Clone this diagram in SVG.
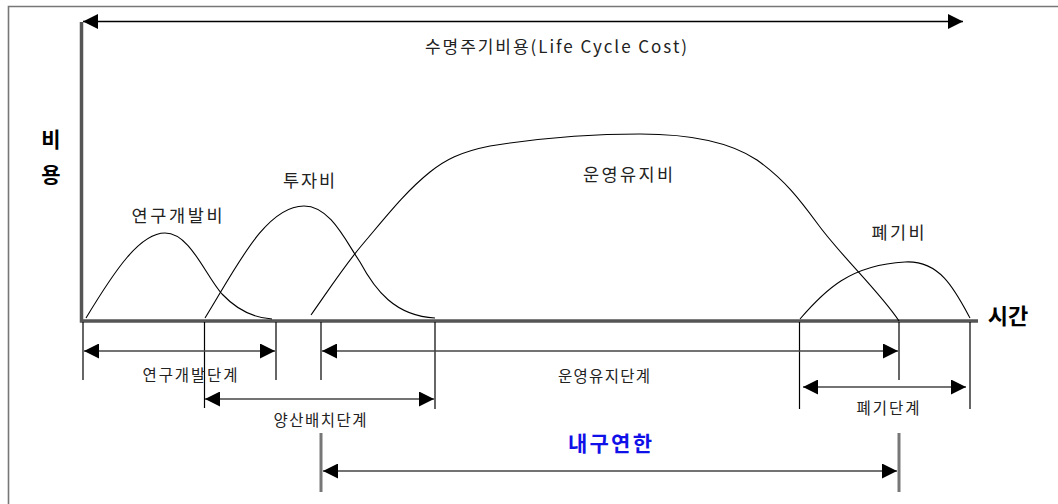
<svg xmlns="http://www.w3.org/2000/svg" width="1058" height="504" viewBox="0 0 1058 504">
<style>
.t{font-family:"Noto Sans CJK KR","Liberation Sans",sans-serif;fill:#222;text-anchor:middle}
.lbl{font-size:17.5px}
.ph{font-size:15.5px}
.b{font-weight:bold;fill:#000}
.curve{fill:none;stroke:#000;stroke-width:1.1}
.tick{stroke:#000;stroke-width:1.2}
.dim{stroke:#444;stroke-width:1.3;marker-start:url(#al);marker-end:url(#ar)}
.axis{stroke:#555;stroke-width:3.5;fill:none}
</style>
<defs>
<marker id="ar" markerUnits="userSpaceOnUse" markerWidth="16" markerHeight="16" refX="15" refY="7.5" orient="auto"><path d="M0,0 L15,7.5 L0,15 z" fill="#000"/></marker>
<marker id="al" markerUnits="userSpaceOnUse" markerWidth="16" markerHeight="16" refX="0" refY="7.5" orient="auto"><path d="M15,0 L0,7.5 L15,15 z" fill="#000"/></marker>
</defs>
<rect width="1058" height="504" fill="#fff"/>
<g id="frame"><path d="M8.5,504 V6.5 H1058" fill="none" stroke="#777" stroke-width="1.6"/></g>
<g id="axes">
<path class="axis" d="M81.5,22 V321 H978"/>
<text class="t b" x="51" y="147" font-size="21">비</text>
<text class="t b" x="51" y="182" font-size="21">용</text>
<text class="t b" x="1008" y="324" font-size="22">시간</text>
</g>
<g id="lcc">
<line x1="83" y1="21.5" x2="963" y2="21.5" stroke="#000" stroke-width="1.3" marker-start="url(#al)" marker-end="url(#ar)"/>
<text class="t" x="556" y="53" font-size="17" textLength="262">수명주기비용(Life Cycle Cost)</text>
</g>
<g id="rnd">
<path class="curve" d="M86,318 C115,270 140,233 165,233 C190,233 205,275 222,294 C238,311 255,318 272,319"/>
<text class="t lbl" x="177" y="222" textLength="91">연구개발비</text>
</g>
<g id="invest">
<path class="curve" d="M205,318 C235,270 265,206 304,206 C330,206 345,240 360,262 C375,290 395,316 435,318"/>
<text class="t lbl" x="309" y="187" textLength="52">투자비</text>
</g>
<g id="om">
<path class="curve" d="M311,315 C330,288 345,265 362,245 C385,218 405,192 430,172 C445,160 460,152 490,146 C540,138 590,134 640,134 C690,134 730,142 757,160 C785,180 800,200 817,223 C840,255 880,292 899,321"/>
<text class="t lbl" x="628" y="181" textLength="90">운영유지비</text>
</g>
<g id="disposal">
<path class="curve" d="M800,319 C825,290 850,265 905,262 C940,260 955,290 970,318"/>
<text class="t lbl" x="898" y="239" textLength="53">폐기비</text>
</g>
<g id="connectors">
<line class="tick" x1="83" y1="322" x2="83" y2="380"/>
<line class="tick" x1="204.5" y1="322" x2="204.5" y2="408"/>
<line class="tick" x1="276" y1="322" x2="276" y2="380"/>
<line class="tick" x1="321" y1="322" x2="321" y2="380"/>
<line class="tick" x1="435" y1="322" x2="435" y2="409"/>
<line class="tick" x1="799.5" y1="322" x2="799.5" y2="409"/>
<line class="tick" x1="899" y1="322" x2="899" y2="380"/>
<line class="tick" x1="970" y1="322" x2="970" y2="409"/>
<line class="dim" x1="84" y1="351" x2="275" y2="351"/>
<line class="dim" x1="322" y1="351" x2="898" y2="351"/>
<line class="dim" x1="205" y1="399" x2="434" y2="399"/>
<line class="dim" x1="803" y1="387" x2="966" y2="387"/>
<line x1="321" y1="433" x2="321" y2="492" stroke="#777" stroke-width="3"/>
<line x1="899" y1="433" x2="899" y2="492" stroke="#777" stroke-width="3"/>
<line class="dim" x1="323" y1="471" x2="897" y2="471"/>
</g>
<g id="phases">
<text class="t ph" x="190" y="381" textLength="95">연구개발단계</text>
<text class="t ph" x="604" y="382" textLength="92">운영유지단계</text>
<text class="t ph" x="320" y="426" textLength="93">양산배치단계</text>
<text class="t ph" x="888" y="414" textLength="63">폐기단계</text>
<text class="t b" x="610" y="451" font-size="21" style="fill:#1010e8" textLength="84">내구연한</text>
</g>
</svg>
